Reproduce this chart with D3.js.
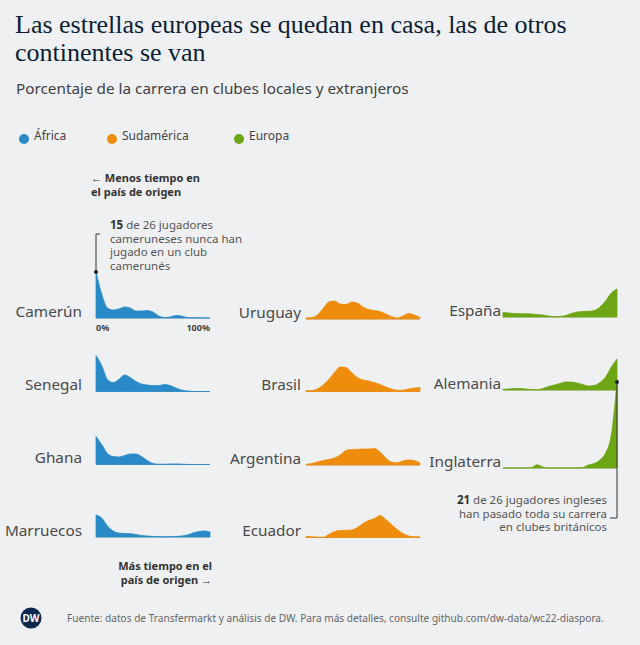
<!DOCTYPE html>
<html>
<head>
<meta charset="utf-8">
<script src="https://cdn.jsdelivr.net/npm/d3@7"></script>
<style>
  body { margin: 0; background: #eff0f2; }
  svg { display: block; }
  text { font-family: "Noto Sans", "Open Sans", sans-serif; }
</style>
</head>
<body>
<script>

    var width = 640,
        height = 645;

    // continents + countries in each column
    var continents = ["África", "Sudamérica", "Europa"];
    var africa = ["Camerún", "Senegal", "Ghana", "Marruecos"];
    var sudamerica = ["Uruguay", "Brasil", "Argentina", "Ecuador"];
    var europa = ["España", "Alemania", "Inglaterra"];

    // density of career share in home clubs, 0% .. 100% in steps of 5%
    var camerun   = [46, 24, 10, 8, 9, 11, 10, 7, 7, 7.5, 6, 2, 0.5, 1, 2.5, 2, 0.5, 0.2, 0.1, 0, 0];
    var senegal   = [36, 26, 12, 9, 12, 16.5, 14, 10, 7.5, 6.5, 6, 6, 7, 6, 3.5, 1.5, 0.5, 0, 0, 0, 0];
    var ghana     = [28, 20, 11, 8, 7.5, 9, 10.5, 10.5, 8, 4, 1, 0.3, 0.3, 0.5, 0.6, 0.4, 0.1, 0, 0, 0, 0];
    var marruecos = [22, 19, 11, 6, 4, 3.5, 3.3, 2.5, 1.5, 1, 0.5, 0.3, 0.3, 0.3, 0.5, 1, 2, 4, 5.5, 6, 5];
    var uruguay   = [1, 1.5, 4, 10.5, 17, 18, 15, 14.5, 17, 16, 12, 9.5, 8.5, 7.5, 5, 2.5, 1, 3, 5.5, 4, 1.5];
    var brasil    = [0.8, 1, 2.5, 6.5, 12, 19, 24.5, 24, 19, 14, 11.5, 10.5, 9, 7, 4.5, 2.5, 1.2, 1.3, 2.5, 3.5, 4];
    var argentina = [0.5, 1.5, 3, 4.5, 5.5, 7, 10, 14.5, 15.5, 15.7, 16, 16, 16.5, 13, 7, 3, 2.3, 4, 5, 4.5, 2];
    var ecuador   = [1, 0.8, 0.5, 0.3, 3, 6, 7, 7.2, 7.5, 10, 14, 17, 19, 22, 18, 13, 8, 4, 1.5, 0.8, 0.7];
    var espana    = [4.5, 4, 3.5, 3.3, 3.2, 3, 2.5, 2, 1, 0.3, 0.5, 1.5, 3.5, 5, 5.5, 5.7, 6.5, 10, 16, 24, 28];
    var alemania  = [0.7, 1, 1.5, 1.5, 1, 0.5, 0.2, 1.5, 3.5, 5, 6.5, 8, 8, 7, 5.5, 4, 4.5, 7.5, 13, 23, 31];
    var inglaterra = [0, 0, 0, 0, 0, 0.5, 3.3, 1, 0, 0, 0, 0, 0, 0, 0.5, 3, 4.5, 8, 15, 33, 86];

    var series = {
        "Camerún": camerun, "Senegal": senegal, "Ghana": ghana, "Marruecos": marruecos,
        "Uruguay": uruguay, "Brasil": brasil, "Argentina": argentina, "Ecuador": ecuador,
        "España": espana, "Alemania": alemania, "Inglaterra": inglaterra
    };

    var colors = ["#2a8ac8", "#ee8d0c", "#6ea515"];

    // layout of the three columns
    var columns = [
        {names: africa,     x0: 96,  x1: 210, gap: 14, rows: [318, 391.5, 464.5, 537]},
        {names: sudamerica, x0: 306, x1: 420, gap: 5,  rows: [319, 391.5, 465, 537.5]},
        {names: europa,     x0: 503, x1: 617, gap: 2,  rows: [317, 390, 468]}
    ];

    var svg = d3.select("body")
    .append("svg")
    .attr("width", width)
    .attr("height", height);

    svg.append("rect")
    .attr("width", width)
    .attr("height", height)
    .attr("fill", "#eff0f2");

    // title + subtitle
    var title = svg.append("text")
    .attr("x", 15)
    .attr("y", 33)
    .style("font-family", "'Liberation Serif', serif")
    .attr("font-size", "26px")
    .attr("fill", "#0b1e36");
    title.append("tspan").attr("x", 15).text("Las estrellas europeas se quedan en casa, las de otros");
    title.append("tspan").attr("x", 15).attr("dy", 28).text("continentes se van");

    svg.append("text")
    .attr("x", 16)
    .attr("y", 94)
    .attr("font-size", "15.3px")
    .attr("fill", "#404040")
    .text("Porcentaje de la carrera en clubes locales y extranjeros");

    // legend
    var legendX = [24, 112, 239];
    var legend = svg.selectAll(".legend")
    .data(continents)
    .enter().append("g")
    .attr("class", "legend")
    .attr("transform", function(d, i) { return "translate(" + legendX[i] + ",139)"; });

    legend.append("circle")
    .attr("r", 5)
    .style("fill", function(d, i) { return colors[i]; });

    legend.append("text")
    .attr("x", 10)
    .attr("dy", ".1em")
    .attr("font-size", "12px")
    .attr("fill", "#444")
    .text(function(d) { return d; });

    // shared scales
    var y = d3.scaleLinear()
    .domain([0, 86])
    .range([0, 86]);

    columns.forEach(function(col, ci) {
        var x = d3.scaleLinear()
        .domain([0, camerun.length - 1])
        .range([col.x0, col.x1]);

        var g = svg.selectAll("g.col" + ci)
        .data(col.names)
        .enter().append("g")
        .attr("class", "col" + ci)
        .attr("transform", function(d, i) { return "translate(0," + col.rows[i] + ")"; });

        g.append("line")
        .attr("x1", col.x0)
        .attr("x2", col.x1)
        .attr("stroke", "#b4b7bb")
        .attr("stroke-width", 1);

        var area = d3.area()
        .x(function(d, i) { return x(i); })
        .y0(0)
        .y1(function(d) { return -y(d); })
        .curve(d3.curveMonotoneX);

        g.append("path")
        .attr("d", function(d) { return area(series[d]); })
        .attr("fill", colors[ci])
        .attr("stroke", colors[ci])
        .attr("stroke-width", 0.8);

        g.append("text")
        .attr("x", col.x0 - col.gap)
        .attr("y", -1.5)
        .attr("text-anchor", "end")
        .attr("font-size", "15.3px")
        .attr("fill", "#4a4a4a")
        .text(function(d) { return d; });
    });

    // axis labels under Camerún
    var xa = d3.scaleLinear().domain([0, 100]).range([96, 210]);
    svg.append("text")
    .attr("x", xa(0))
    .attr("y", 331)
    .attr("font-size", "9px")
    .attr("font-weight", "bold")
    .attr("fill", "#444")
    .text("0%");
    svg.append("text")
    .attr("x", xa(100))
    .attr("y", 331)
    .attr("text-anchor", "end")
    .attr("font-size", "9px")
    .attr("font-weight", "bold")
    .attr("fill", "#444")
    .text("100%");

    // direction notes
    var less = svg.append("text")
    .attr("x", 91)
    .attr("y", 182)
    .attr("font-size", "11px")
    .attr("font-weight", "bold")
    .attr("fill", "#333");
    less.append("tspan").attr("x", 91).text("← Menos tiempo en");
    less.append("tspan").attr("x", 91).attr("dy", 14).text("el país de origen");

    var more = svg.append("text")
    .attr("x", 212)
    .attr("y", 570)
    .attr("text-anchor", "end")
    .attr("font-size", "11px")
    .attr("font-weight", "bold")
    .attr("fill", "#333");
    more.append("tspan").attr("x", 212).text("Más tiempo en el");
    more.append("tspan").attr("x", 212).attr("dy", 14).text("país de origen →");

    // Camerún annotation
    var camTop = 318 - y(camerun[0]);
    svg.append("path")
    .attr("d", "M" + xa(0) + "," + camTop + "V234H100")
    .attr("fill", "none")
    .attr("stroke", "#333")
    .attr("stroke-width", 1);
    svg.append("circle")
    .attr("cx", xa(0))
    .attr("cy", camTop)
    .attr("r", 2)
    .attr("fill", "#222");

    var camNote = svg.append("text")
    .attr("y", 229)
    .attr("font-size", "11.5px")
    .attr("fill", "#555");
    var l1 = camNote.append("tspan").attr("x", 110);
    l1.append("tspan").attr("font-weight", "bold").attr("fill", "#333").text("15");
    l1.append("tspan").text(" de 26 jugadores");
    camNote.append("tspan").attr("x", 110).attr("dy", 13.5).text("cameruneses nunca han");
    camNote.append("tspan").attr("x", 110).attr("dy", 13.5).text("jugado en un club");
    camNote.append("tspan").attr("x", 110).attr("dy", 13.5).text("camerunés");

    // Inglaterra annotation
    var engTop = 468 - y(inglaterra[inglaterra.length - 1]);
    svg.append("path")
    .attr("d", "M617," + engTop + "V518H610")
    .attr("fill", "none")
    .attr("stroke", "#333")
    .attr("stroke-width", 1);
    svg.append("circle")
    .attr("cx", 617)
    .attr("cy", engTop)
    .attr("r", 2)
    .attr("fill", "#222");

    var engNote = svg.append("text")
    .attr("y", 504)
    .attr("text-anchor", "end")
    .attr("font-size", "11.5px")
    .attr("fill", "#555");
    var e1 = engNote.append("tspan").attr("x", 607);
    e1.append("tspan").attr("font-weight", "bold").attr("fill", "#333").text("21");
    e1.append("tspan").text(" de 26 jugadores ingleses");
    engNote.append("tspan").attr("x", 607).attr("dy", 13.5).text("han pasado toda su carrera");
    engNote.append("tspan").attr("x", 607).attr("dy", 13.5).text("en clubes británicos");

    // footer
    svg.append("circle")
    .attr("cx", 31)
    .attr("cy", 618)
    .attr("r", 10.5)
    .attr("fill", "#0b2a4e");
    svg.append("text")
    .attr("x", 31)
    .attr("y", 621.5)
    .attr("text-anchor", "middle")
    .attr("font-size", "10px")
    .attr("font-weight", "bold")
    .attr("fill", "#fff")
    .text("DW");

    svg.append("text")
    .attr("x", 67)
    .attr("y", 621.5)
    .attr("font-size", "10.1px")
    .attr("fill", "#666")
    .text("Fuente: datos de Transfermarkt y análisis de DW. Para más detalles, consulte github.com/dw-data/wc22-diaspora.");

    </script>
</body>
</html>
